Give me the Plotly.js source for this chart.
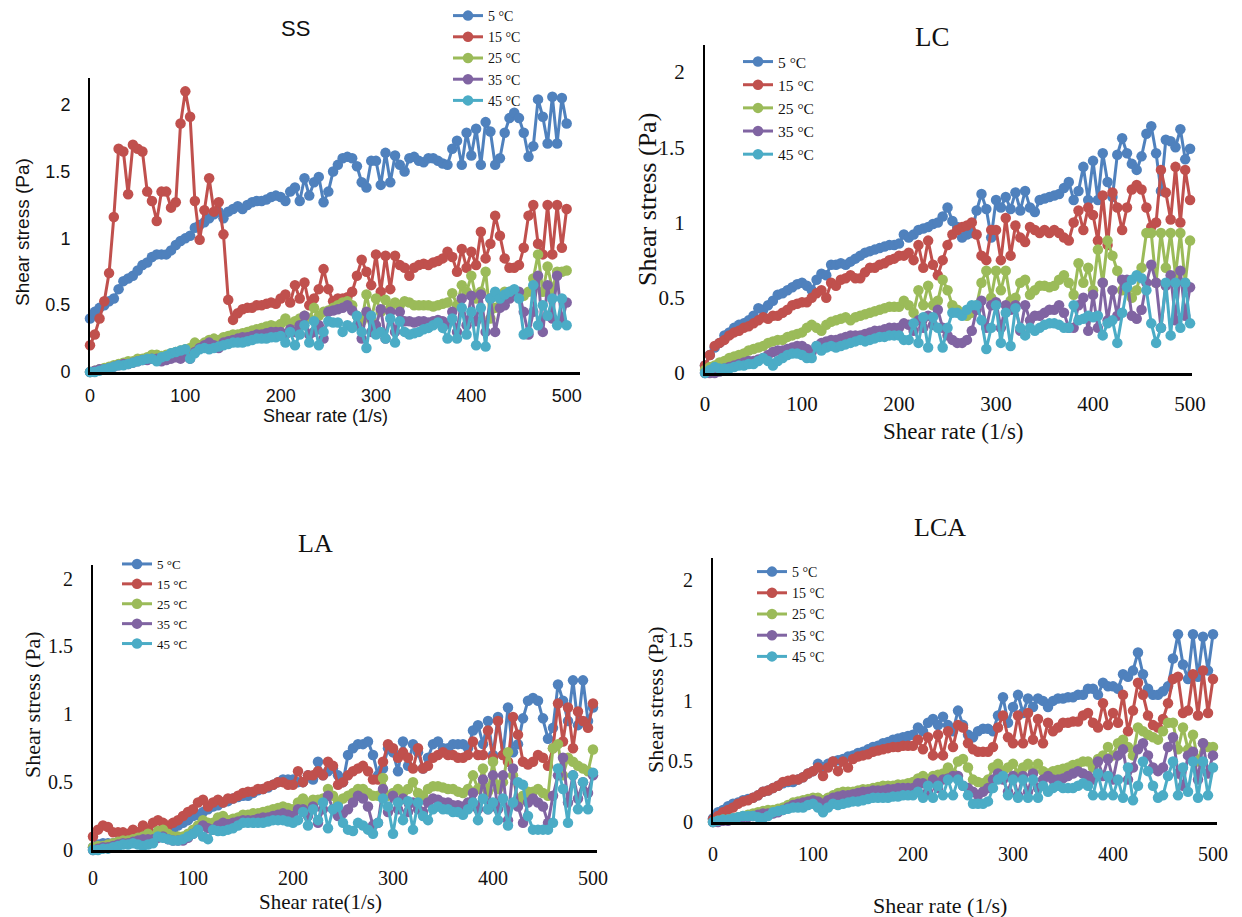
<!DOCTYPE html>
<html>
<head>
<meta charset="utf-8">
<script src="https://cdn.plot.ly/plotly-3.0.1.min.js"></script>
<style>html,body{margin:0;padding:0;background:#fff;}#chart{width:1242px;height:917px;}</style>
</head>
<body>
<div id="chart"></div>
<script>
// ---------- DATA ----------
const shearRate = [0,5,10,15,20,25,30,35,40,45,50,55,60,65,70,75,80,85,90,95,100,105,110,115,120,125,130,135,140,145,150,155,160,165,170,175,180,185,190,195,200,205,210,215,220,225,230,235,240,245,250,255,260,265,270,275,280,285,290,295,300,305,310,315,320,325,330,335,340,345,350,355,360,365,370,375,380,385,390,395,400,405,410,415,420,425,430,435,440,445,450,455,460,465,470,475,480,485,490,495,500];
const tempLabels = ['5 °C','15 °C','25 °C','35 °C','45 °C'];
const panelNames = ['SS','LC','LA','LCA'];

// SS
const ss5 = [0.40,0.45,0.48,0.50,0.53,0.55,0.62,0.68,0.70,0.72, 0.76,0.80,0.82,0.86,0.88,0.88,0.88,0.91,0.95,0.98, 1.00,1.02,1.08,1.10,1.12,1.15,1.18,1.20,1.15,1.20, 1.22,1.24,1.22,1.25,1.27,1.28,1.28,1.29,1.31,1.32, 1.31,1.28,1.35,1.38,1.28,1.45,1.32,1.42,1.46,1.27, 1.35,1.50,1.55,1.60,1.61,1.60,1.54,1.42,1.38,1.58, 1.58,1.40,1.64,1.42,1.62,1.55,1.50,1.60,1.61,1.58, 1.57,1.60,1.60,1.58,1.56,1.55,1.67,1.73,1.55,1.79, 1.62,1.82,1.55,1.87,1.80,1.55,1.60,1.79,1.90,1.94, 1.90,1.79,1.61,1.69,2.04,1.91,1.71,2.06,1.71,2.05, 1.86];
const ss15 = [0.20,0.28,0.40,0.53,0.74,1.16,1.67,1.65,1.33,1.70, 1.67,1.65,1.35,1.28,1.13,1.35,1.35,1.23,1.27,1.86, 2.10,1.91,1.28,0.99,1.21,1.45,1.20,1.27,1.03,0.54, 0.39,0.44,0.47,0.48,0.48,0.50,0.50,0.51,0.52,0.51, 0.55,0.58,0.52,0.65,0.55,0.67,0.50,0.55,0.62,0.77, 0.62,0.53,0.55,0.55,0.56,0.60,0.72,0.84,0.75,0.65, 0.88,0.60,0.87,0.62,0.87,0.80,0.78,0.72,0.78,0.80, 0.81,0.80,0.82,0.83,0.85,0.90,0.86,0.75,0.92,0.78, 0.90,0.80,1.05,0.85,0.96,1.17,1.02,0.85,0.78,0.78, 0.80,0.93,1.17,1.25,0.96,0.88,1.25,0.88,1.25,0.93, 1.22];
const ss25 = [0.00,0.01,0.02,0.03,0.04,0.05,0.06,0.07,0.08,0.08, 0.10,0.10,0.11,0.13,0.13,0.12,0.13,0.14,0.15,0.16, 0.17,0.18,0.22,0.20,0.22,0.24,0.25,0.24,0.26,0.27, 0.28,0.28,0.29,0.30,0.31,0.32,0.33,0.34,0.35,0.34, 0.36,0.40,0.36,0.38,0.40,0.42,0.40,0.48,0.42,0.45, 0.46,0.48,0.50,0.52,0.53,0.50,0.42,0.38,0.58,0.40, 0.55,0.45,0.54,0.48,0.52,0.50,0.53,0.52,0.50,0.50, 0.50,0.50,0.49,0.50,0.51,0.52,0.59,0.50,0.65,0.60, 0.72,0.55,0.60,0.75,0.40,0.48,0.55,0.60,0.60,0.58, 0.58,0.57,0.60,0.70,0.88,0.60,0.79,0.62,0.75,0.75, 0.76];
const ss35 = [0.00,0.01,0.02,0.02,0.03,0.04,0.05,0.06,0.06,0.07, 0.08,0.09,0.09,0.10,0.10,0.08,0.09,0.10,0.11,0.10, 0.12,0.10,0.15,0.18,0.20,0.22,0.20,0.18,0.22,0.23, 0.24,0.25,0.26,0.26,0.27,0.28,0.28,0.29,0.30,0.30, 0.30,0.28,0.32,0.30,0.35,0.42,0.28,0.30,0.35,0.25, 0.45,0.46,0.47,0.48,0.50,0.46,0.35,0.25,0.45,0.30, 0.35,0.47,0.25,0.45,0.30,0.45,0.38,0.38,0.37,0.38, 0.38,0.37,0.38,0.39,0.38,0.36,0.45,0.30,0.55,0.35, 0.57,0.38,0.58,0.30,0.55,0.30,0.48,0.50,0.55,0.58, 0.60,0.45,0.28,0.45,0.72,0.30,0.65,0.40,0.72,0.38, 0.52];
const ss45 = [0.00,0.00,0.01,0.02,0.03,0.04,0.05,0.05,0.06,0.07, 0.08,0.09,0.10,0.10,0.08,0.11,0.12,0.14,0.15,0.16, 0.17,0.10,0.14,0.17,0.18,0.17,0.18,0.19,0.20,0.21, 0.22,0.22,0.22,0.23,0.24,0.25,0.25,0.25,0.26,0.26, 0.27,0.22,0.30,0.20,0.28,0.35,0.22,0.38,0.20,0.30, 0.38,0.37,0.37,0.30,0.35,0.33,0.42,0.30,0.18,0.42, 0.28,0.30,0.25,0.40,0.22,0.38,0.30,0.28,0.29,0.30, 0.32,0.33,0.35,0.37,0.33,0.25,0.40,0.25,0.48,0.28, 0.45,0.20,0.48,0.19,0.55,0.60,0.55,0.58,0.60,0.62, 0.55,0.28,0.30,0.65,0.35,0.50,0.42,0.55,0.35,0.55, 0.35];

// LC
const lc5 = [0.05,0.12,0.17,0.20,0.25,0.27,0.30,0.32,0.33,0.35, 0.38,0.43,0.42,0.45,0.48,0.52,0.53,0.55,0.57,0.59, 0.60,0.58,0.55,0.62,0.66,0.65,0.72,0.72,0.73,0.72, 0.74,0.76,0.78,0.80,0.81,0.82,0.83,0.84,0.85,0.85, 0.86,0.92,0.90,0.92,0.95,0.96,0.97,0.99,1.00,1.04, 1.10,1.01,0.97,0.90,0.92,0.93,1.08,1.19,1.09,0.90, 1.15,1.10,1.17,1.09,1.20,1.08,1.21,1.10,1.07,1.15, 1.16,1.17,1.18,1.19,1.23,1.27,1.15,1.21,1.37,1.15, 1.41,1.15,1.46,1.27,1.17,1.45,1.56,1.46,1.39,1.35, 1.44,1.59,1.64,1.46,1.21,1.55,1.54,1.50,1.62,1.42, 1.49];
const lc15 = [0.05,0.12,0.18,0.20,0.22,0.25,0.27,0.28,0.30,0.31, 0.33,0.35,0.37,0.36,0.38,0.38,0.40,0.42,0.45,0.46, 0.47,0.47,0.50,0.53,0.55,0.50,0.60,0.58,0.62,0.63, 0.65,0.63,0.63,0.67,0.70,0.70,0.72,0.73,0.75,0.76, 0.78,0.78,0.80,0.75,0.85,0.70,0.88,0.72,0.65,0.75, 0.85,0.92,0.95,0.97,0.98,1.00,0.92,0.78,0.75,0.95, 0.95,0.75,1.03,0.78,0.98,0.90,0.87,0.97,0.95,0.93, 0.95,0.93,0.95,0.93,0.90,0.88,1.00,1.08,0.95,1.10, 1.05,0.88,1.18,0.85,1.20,1.10,0.95,1.10,1.22,1.25, 1.22,1.10,0.97,1.00,1.35,1.20,1.02,1.37,1.00,1.35, 1.15];
const lc25 = [0.02,0.04,0.05,0.07,0.08,0.10,0.11,0.12,0.13,0.15, 0.16,0.17,0.18,0.20,0.21,0.22,0.22,0.24,0.25,0.26, 0.27,0.30,0.32,0.30,0.28,0.32,0.34,0.35,0.36,0.37, 0.35,0.37,0.38,0.39,0.40,0.41,0.42,0.43,0.44,0.44, 0.44,0.48,0.45,0.40,0.55,0.45,0.58,0.45,0.48,0.62, 0.55,0.45,0.42,0.40,0.38,0.40,0.45,0.60,0.68,0.50, 0.68,0.55,0.68,0.48,0.50,0.60,0.62,0.52,0.55,0.58, 0.58,0.57,0.58,0.62,0.65,0.60,0.52,0.73,0.60,0.70, 0.55,0.82,0.60,0.88,0.78,0.68,0.55,0.55,0.50,0.55, 0.70,0.93,0.93,0.60,0.93,0.70,0.93,0.65,0.93,0.60, 0.88];
const lc35 = [0.00,0.00,0.00,0.01,0.03,0.04,0.05,0.06,0.07,0.08, 0.08,0.09,0.10,0.12,0.14,0.15,0.15,0.16,0.17,0.18, 0.18,0.16,0.14,0.18,0.20,0.21,0.22,0.22,0.23,0.24, 0.25,0.25,0.25,0.26,0.27,0.28,0.28,0.29,0.30,0.30, 0.30,0.33,0.32,0.28,0.35,0.30,0.38,0.32,0.42,0.30, 0.25,0.22,0.20,0.20,0.22,0.28,0.42,0.48,0.30,0.45, 0.47,0.30,0.45,0.42,0.45,0.28,0.45,0.35,0.38,0.38, 0.40,0.42,0.42,0.45,0.40,0.30,0.30,0.45,0.50,0.28, 0.52,0.30,0.60,0.35,0.55,0.38,0.62,0.62,0.38,0.36, 0.42,0.60,0.72,0.60,0.30,0.58,0.65,0.35,0.68,0.38, 0.57];
const lc45 = [0.00,0.02,0.04,0.03,0.03,0.03,0.04,0.05,0.05,0.06, 0.06,0.08,0.10,0.08,0.05,0.08,0.10,0.12,0.13,0.13, 0.12,0.10,0.10,0.18,0.15,0.17,0.18,0.17,0.18,0.19, 0.20,0.21,0.22,0.21,0.22,0.23,0.24,0.24,0.25,0.25, 0.25,0.22,0.22,0.33,0.20,0.37,0.17,0.37,0.30,0.17, 0.30,0.40,0.40,0.38,0.42,0.45,0.45,0.35,0.16,0.30, 0.45,0.20,0.40,0.18,0.43,0.30,0.25,0.30,0.28,0.30, 0.32,0.33,0.33,0.32,0.30,0.30,0.45,0.35,0.36,0.38, 0.37,0.38,0.25,0.33,0.35,0.20,0.40,0.57,0.62,0.65, 0.63,0.55,0.33,0.20,0.30,0.60,0.25,0.60,0.30,0.60, 0.33];

// LA
const la5 = [0.02,0.04,0.05,0.05,0.05,0.06,0.07,0.08,0.08,0.09, 0.10,0.10,0.12,0.13,0.14,0.14,0.15,0.18,0.20,0.22, 0.25,0.26,0.28,0.30,0.32,0.33,0.35,0.36,0.38,0.39, 0.40,0.40,0.42,0.44,0.45,0.46,0.48,0.50,0.52,0.52, 0.52,0.50,0.50,0.55,0.52,0.65,0.55,0.58,0.60,0.55, 0.50,0.70,0.75,0.78,0.78,0.80,0.70,0.55,0.60,0.75, 0.72,0.58,0.80,0.62,0.78,0.72,0.60,0.68,0.78,0.80, 0.75,0.75,0.78,0.78,0.78,0.75,0.88,0.92,0.78,0.95, 0.70,0.98,0.70,1.05,0.72,0.78,0.97,1.10,1.12,1.10, 0.97,0.82,0.90,1.22,1.10,0.95,1.25,0.92,1.25,0.95, 1.05];
const la15 = [0.10,0.15,0.18,0.17,0.13,0.13,0.13,0.12,0.15,0.13, 0.18,0.15,0.20,0.22,0.20,0.18,0.20,0.22,0.25,0.28, 0.30,0.35,0.37,0.32,0.35,0.37,0.35,0.38,0.38,0.40, 0.42,0.43,0.43,0.45,0.45,0.47,0.48,0.50,0.50,0.48, 0.48,0.58,0.50,0.55,0.55,0.58,0.55,0.65,0.62,0.48, 0.50,0.55,0.58,0.60,0.62,0.58,0.52,0.52,0.65,0.78, 0.75,0.68,0.72,0.68,0.60,0.75,0.60,0.62,0.68,0.70, 0.72,0.70,0.70,0.68,0.68,0.70,0.80,0.70,0.70,0.88, 0.68,0.95,0.70,0.65,0.98,0.85,0.65,0.63,0.65,0.70, 0.68,0.62,0.75,1.08,0.80,1.05,0.75,1.02,0.95,0.90, 1.08];
const la25 = [0.02,0.03,0.03,0.04,0.05,0.06,0.07,0.07,0.08,0.09, 0.10,0.12,0.10,0.14,0.15,0.12,0.10,0.10,0.10,0.12, 0.15,0.18,0.22,0.20,0.20,0.24,0.25,0.22,0.23,0.24, 0.26,0.26,0.27,0.27,0.28,0.29,0.30,0.31,0.32,0.31, 0.30,0.35,0.38,0.33,0.37,0.37,0.38,0.45,0.40,0.35, 0.38,0.40,0.42,0.45,0.45,0.42,0.40,0.40,0.53,0.40, 0.42,0.45,0.42,0.45,0.50,0.42,0.40,0.45,0.47,0.47, 0.46,0.45,0.45,0.43,0.42,0.45,0.55,0.45,0.60,0.43, 0.65,0.45,0.50,0.72,0.55,0.35,0.40,0.43,0.43,0.45, 0.42,0.40,0.75,0.78,0.55,0.68,0.65,0.62,0.60,0.58, 0.74];
const la35 = [0.00,0.01,0.02,0.02,0.03,0.04,0.05,0.05,0.06,0.07, 0.08,0.08,0.08,0.09,0.10,0.08,0.07,0.07,0.07,0.09, 0.12,0.15,0.18,0.16,0.15,0.18,0.20,0.19,0.20,0.21, 0.22,0.22,0.22,0.23,0.24,0.24,0.25,0.26,0.27,0.26, 0.25,0.30,0.30,0.25,0.32,0.20,0.30,0.40,0.30,0.25, 0.27,0.30,0.35,0.40,0.38,0.32,0.18,0.20,0.45,0.28, 0.40,0.30,0.38,0.28,0.35,0.30,0.28,0.35,0.38,0.37, 0.35,0.35,0.33,0.33,0.32,0.35,0.42,0.30,0.52,0.30, 0.55,0.30,0.55,0.22,0.60,0.32,0.20,0.35,0.38,0.35, 0.32,0.20,0.40,0.55,0.68,0.35,0.55,0.38,0.50,0.42, 0.55];
const la45 = [0.00,0.00,0.01,0.01,0.02,0.03,0.04,0.04,0.05,0.04, 0.03,0.04,0.05,0.10,0.09,0.08,0.07,0.07,0.08,0.10, 0.12,0.15,0.10,0.08,0.15,0.14,0.14,0.15,0.16,0.18, 0.20,0.20,0.20,0.20,0.20,0.21,0.22,0.22,0.22,0.21, 0.20,0.22,0.28,0.18,0.30,0.22,0.35,0.16,0.30,0.32, 0.20,0.15,0.14,0.20,0.18,0.15,0.12,0.20,0.38,0.32, 0.12,0.35,0.22,0.36,0.15,0.35,0.25,0.22,0.30,0.32, 0.30,0.30,0.28,0.28,0.26,0.30,0.35,0.22,0.38,0.30, 0.35,0.22,0.38,0.18,0.35,0.50,0.48,0.25,0.15,0.15, 0.15,0.15,0.20,0.60,0.45,0.20,0.55,0.30,0.50,0.30, 0.57];

// LCA
const lca5 = [0.03,0.08,0.10,0.13,0.15,0.16,0.18,0.19,0.20,0.22, 0.25,0.26,0.28,0.30,0.32,0.33,0.33,0.35,0.37,0.40, 0.42,0.48,0.45,0.48,0.50,0.51,0.52,0.54,0.55,0.57, 0.58,0.60,0.62,0.63,0.65,0.66,0.68,0.69,0.70,0.71, 0.72,0.78,0.75,0.82,0.85,0.80,0.87,0.80,0.75,0.92, 0.80,0.72,0.70,0.75,0.77,0.77,0.75,0.88,1.03,0.82, 0.95,1.05,0.90,1.02,0.95,1.02,1.00,0.95,1.00,1.02, 1.02,1.03,1.03,1.05,1.05,1.10,1.10,1.05,1.15,1.12, 1.12,1.10,1.22,1.20,1.25,1.40,1.22,1.10,1.05,1.05, 1.08,1.12,1.35,1.55,1.30,1.18,1.55,1.20,1.53,1.25, 1.55];
const lca15 = [0.02,0.05,0.08,0.10,0.12,0.15,0.17,0.18,0.20,0.22, 0.25,0.26,0.28,0.30,0.33,0.34,0.35,0.35,0.37,0.40, 0.42,0.45,0.38,0.45,0.50,0.42,0.50,0.45,0.52,0.54, 0.55,0.56,0.58,0.59,0.60,0.61,0.62,0.62,0.63,0.63, 0.63,0.68,0.60,0.70,0.55,0.72,0.55,0.75,0.62,0.80, 0.78,0.65,0.60,0.58,0.58,0.58,0.62,0.78,0.88,0.70, 0.65,0.88,0.65,0.90,0.68,0.85,0.65,0.82,0.75,0.78, 0.82,0.82,0.83,0.83,0.88,0.90,0.82,0.78,0.98,0.80, 0.90,0.82,1.05,0.75,0.92,1.15,1.05,0.88,0.80,0.78, 0.85,0.98,1.18,1.20,0.90,0.92,1.22,0.88,1.25,0.90, 1.18];
const lca25 = [0.00,0.01,0.02,0.02,0.03,0.04,0.05,0.06,0.07,0.08, 0.09,0.10,0.10,0.11,0.12,0.14,0.16,0.17,0.18,0.19, 0.20,0.20,0.18,0.20,0.22,0.24,0.25,0.25,0.25,0.26, 0.27,0.27,0.28,0.29,0.30,0.30,0.30,0.31,0.31,0.32, 0.33,0.36,0.38,0.35,0.38,0.39,0.40,0.45,0.40,0.50, 0.52,0.45,0.35,0.33,0.32,0.35,0.45,0.48,0.42,0.45, 0.48,0.40,0.45,0.48,0.42,0.48,0.42,0.40,0.42,0.43, 0.44,0.45,0.47,0.48,0.50,0.50,0.45,0.52,0.55,0.62, 0.55,0.65,0.68,0.62,0.55,0.78,0.75,0.72,0.70,0.68, 0.75,0.82,0.82,0.60,0.78,0.60,0.72,0.50,0.65,0.62, 0.62];
const lca35 = [0.00,0.00,0.01,0.01,0.02,0.03,0.04,0.04,0.05,0.06, 0.07,0.07,0.07,0.08,0.10,0.12,0.14,0.15,0.16,0.17, 0.18,0.17,0.15,0.18,0.20,0.21,0.22,0.22,0.23,0.24, 0.25,0.25,0.26,0.26,0.26,0.27,0.27,0.28,0.28,0.28, 0.28,0.32,0.32,0.25,0.35,0.28,0.35,0.36,0.38,0.38, 0.30,0.28,0.25,0.22,0.25,0.28,0.35,0.40,0.35,0.25, 0.38,0.22,0.38,0.25,0.40,0.28,0.35,0.38,0.35,0.35, 0.36,0.38,0.40,0.42,0.40,0.38,0.35,0.50,0.38,0.52, 0.35,0.55,0.60,0.35,0.45,0.60,0.65,0.55,0.45,0.42, 0.45,0.62,0.70,0.40,0.30,0.55,0.58,0.35,0.65,0.40, 0.55];
const lca45 = [0.00,0.01,0.02,0.02,0.03,0.04,0.05,0.05,0.05,0.04, 0.03,0.05,0.08,0.09,0.10,0.11,0.12,0.12,0.12,0.14, 0.15,0.12,0.08,0.12,0.15,0.14,0.15,0.16,0.17,0.17, 0.18,0.19,0.20,0.20,0.20,0.20,0.21,0.21,0.22,0.22, 0.22,0.25,0.20,0.30,0.20,0.30,0.22,0.35,0.22,0.35, 0.30,0.22,0.15,0.15,0.15,0.17,0.28,0.35,0.38,0.22, 0.35,0.20,0.35,0.20,0.35,0.20,0.30,0.25,0.28,0.30, 0.28,0.28,0.28,0.30,0.32,0.30,0.22,0.40,0.22,0.38, 0.22,0.35,0.20,0.45,0.18,0.30,0.50,0.42,0.30,0.20, 0.22,0.38,0.50,0.22,0.45,0.25,0.50,0.20,0.50,0.22, 0.45];

const seriesByPanel = [
  [ss5, ss15, ss25, ss35, ss45],
  [lc5, lc15, lc25, lc35, lc45],
  [la5, la15, la25, la35, la45],
  [lca5, lca15, lca25, lca35, lca45]
];

// ---------- STYLE / LAYOUT ----------
const W = 1242, H = 917;
const colors = ['#4F81BD','#C0504D','#9BBB59','#8064A2','#4BACC6'];
const px = x => x / W;
const py = y => 1 - y / H;
const SANS = 'Liberation Sans, Arial, sans-serif';
const SERIF = 'Liberation Serif, Times New Roman, serif';

// per panel geometry (pixels)
const geo = [
  {L:90,  R:580,  T:78,  B:372, xmax:514, ymax:2.2,  font:SANS,  tick:18, xStand:6, legX:448, legY:0,   legFont:14,
   title:{x:295,y:28,size:22,fam:SANS}, xt:{text:'Shear rate (1/s)',x:325,y:416,size:18,fam:SANS}, yt:{x:22,y:232,size:19,fam:SANS}},
  {L:705, R:1192, T:45,  B:373, xmax:502, ymax:2.18, font:SERIF, tick:21, xStand:10, legX:738, legY:45,  legFont:15.5,
   title:{x:932,y:37,size:27,fam:SERIF}, xt:{text:'Shear rate (1/s)',x:953,y:432,size:23,fam:SERIF}, yt:{x:648,y:200,size:26,fam:SERIF}},
  {L:93,  R:597,  T:565, B:850, xmax:504, ymax:2.1,  font:SERIF, tick:20, xStand:8, legX:117, legY:549, legFont:13,
   title:{x:315,y:543,size:26,fam:SERIF}, xt:{text:'Shear rate(1/s)',x:320,y:902,size:21,fam:SERIF}, yt:{x:32,y:705,size:22,fam:SERIF}},
  {L:713, R:1217, T:558, B:822, xmax:504, ymax:2.18, font:SERIF, tick:20, xStand:12, legX:752, legY:556, legFont:14,
   title:{x:940,y:527,size:26,fam:SERIF}, xt:{text:'Shear rate (1/s)',x:940,y:905,size:22,fam:SERIF}, yt:{x:655,y:700,size:22,fam:SERIF}}
];

const traces = [];
const layout = {
  width: W, height: H,
  margin: {l:0, r:0, t:0, b:0},
  paper_bgcolor: '#fff', plot_bgcolor: 'rgba(0,0,0,0)',
  showlegend: true,
  annotations: []
};

geo.forEach((g, p) => {
  const n = p + 1;
  const sfx = n === 1 ? '' : String(n);
  layout['xaxis' + sfx] = {
    domain: [px(g.L), px(g.R)], range: [0, g.xmax], anchor: 'y' + sfx,
    showgrid: false, zeroline: false, showline: true, linecolor: '#000', linewidth: 2.5,
    ticks: '', tickvals: [0,100,200,300,400,500], ticklabelstandoff: g.xStand,
    tickfont: {family: g.font, size: g.tick, color: '#111'}
  };
  layout['yaxis' + sfx] = {
    domain: [py(g.B), py(g.T)], range: [0, g.ymax], anchor: 'x' + sfx,
    showgrid: false, zeroline: false, showline: true, linecolor: '#000', linewidth: 2,
    ticks: '', tickvals: [0,0.5,1,1.5,2], ticktext: ['0','0.5','1','1.5','2'], ticklabelstandoff: 14,
    tickfont: {family: g.font, size: g.tick, color: '#111'}
  };
  layout['legend' + sfx] = {
    x: px(g.legX), y: py(g.legY), xanchor: 'left', yanchor: 'top',
    bgcolor: 'rgba(0,0,0,0)', borderwidth: 0,
    font: {family: SERIF, size: g.legFont, color: '#111'},
    tracegroupgap: 0, itemwidth: 30
  };
  seriesByPanel[p].forEach((vals, i) => {
    traces.push({
      type: 'scatter', mode: 'lines+markers',
      x: shearRate, y: vals, name: tempLabels[i],
      xaxis: 'x' + sfx, yaxis: 'y' + sfx,
      legend: 'legend' + sfx,
      line: {color: colors[i], width: 3},
      marker: {color: colors[i], size: 10.5},
      cliponaxis: false
    });
  });
  layout.annotations.push(
    {text: panelNames[p], x: px(g.title.x), y: py(g.title.y), xref:'paper', yref:'paper', showarrow:false,
     xanchor:'center', yanchor:'middle', font:{family:g.title.fam, size:g.title.size, color:'#111'}},
    {text: g.xt.text, x: px(g.xt.x), y: py(g.xt.y), xref:'paper', yref:'paper', showarrow:false,
     xanchor:'center', yanchor:'middle', font:{family:g.xt.fam, size:g.xt.size, color:'#111'}},
    {text: 'Shear stress (Pa)', x: px(g.yt.x), y: py(g.yt.y), xref:'paper', yref:'paper', showarrow:false, textangle:-90,
     xanchor:'center', yanchor:'middle', font:{family:g.yt.fam, size:g.yt.size, color:'#111'}}
  );
});

Plotly.newPlot('chart', traces, layout, {displayModeBar: false, staticPlot: true});
</script>
</body>
</html>
